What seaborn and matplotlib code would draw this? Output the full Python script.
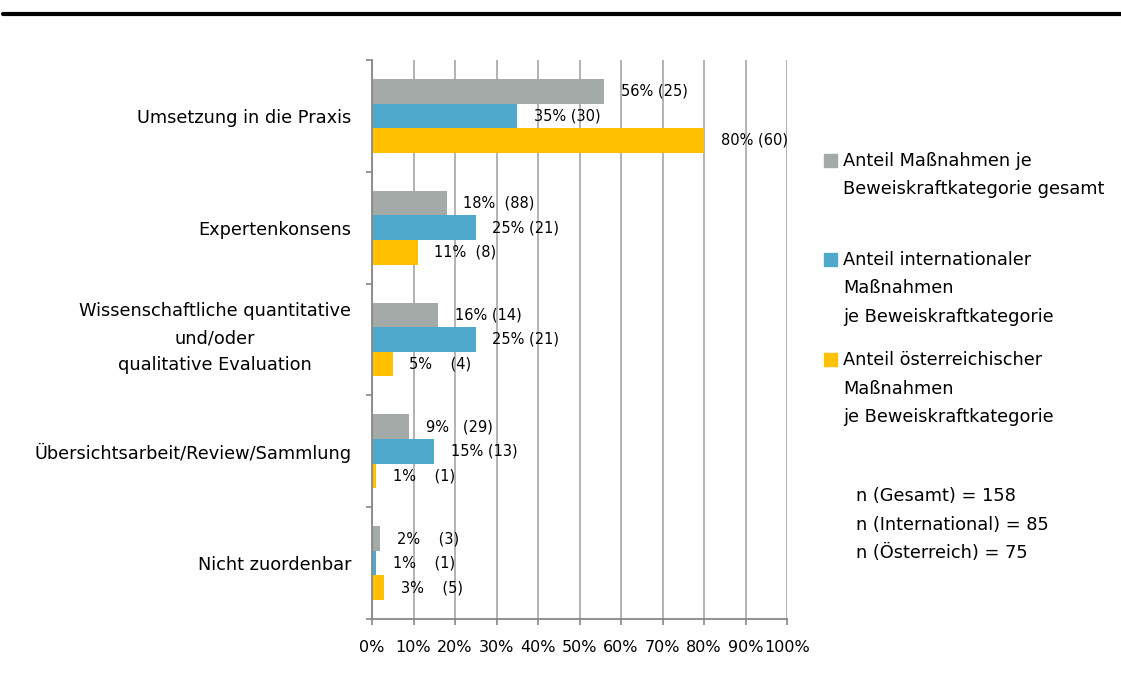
import matplotlib

matplotlib.use("Agg")

import matplotlib.pyplot as plt
import pandas as pd
import seaborn as sns
from matplotlib.lines import Line2D
from matplotlib.patches import Rectangle
from matplotlib.ticker import FixedLocator, MultipleLocator, PercentFormatter
from matplotlib.transforms import ScaledTranslation

categories = [
    "Umsetzung in die Praxis",
    "Expertenkonsens",
    "Wissenschaftliche quantitative\nund/oder\nqualitative Evaluation",
    "Übersichtsarbeit/Review/Sammlung",
    "Nicht zuordenbar",
]
series = [
    "Anteil Maßnahmen je\nBeweiskraftkategorie gesamt",
    "Anteil internationaler\nMaßnahmen\nje Beweiskraftkategorie",
    "Anteil österreichischer\nMaßnahmen\nje Beweiskraftkategorie",
]
colors = ["#A4AAA7", "#4FA9CC", "#FFC000"]

pct_gesamt = [56, 18, 16, 9, 2]
pct_international = [35, 25, 25, 15, 1]
pct_oesterreich = [80, 11, 5, 1, 3]

labels_gesamt = ["56% (25)", "18%  (88)", "16% (14)", "9%   (29)", "2%    (3)"]
labels_international = ["35% (30)", "25% (21)", "25% (21)", "15% (13)", "1%    (1)"]
labels_oesterreich = ["80% (60)", "11%  (8)", "5%    (4)", "1%    (1)", "3%    (5)"]

n_text = "n (Gesamt) = 158\nn (International) = 85\nn (Österreich) = 75"

df = pd.DataFrame({
    "kategorie": categories * 3,
    "serie": [s for s in series for _ in categories],
    "anteil": pct_gesamt + pct_international + pct_oesterreich,
})

sns.set_theme(style="white")
plt.rcParams["font.family"] = ["DejaVu Sans"]
plt.rcParams["text.color"] = "black"

fig = plt.figure(figsize=(11.21, 6.78), dpi=100)
ax = fig.add_axes([372 / 1121, 1 - 619 / 678, 415 / 1121, 559 / 678])

sns.barplot(data=df, y="kategorie", x="anteil", hue="serie", palette=colors,
            orient="h", width=0.66, saturation=1, linewidth=0, ax=ax, legend=False)

for cont, labs in zip(ax.containers, [labels_gesamt, labels_international, labels_oesterreich]):
    ax.bar_label(cont, labels=labs, padding=12, fontsize=10.5, color="black")

ax.set_xlim(0, 100)
ax.set_ylim(len(categories) - 0.5, -0.5)
ax.xaxis.set_major_locator(MultipleLocator(10))
ax.xaxis.set_major_formatter(PercentFormatter(decimals=0))
ax.yaxis.set_minor_locator(FixedLocator([i - 0.5 for i in range(len(categories) + 1)]))
ax.set_xlabel("")
ax.set_ylabel("")

ax.grid(axis="x", color="#a6a6a6", linewidth=1.2)
ax.set_axisbelow(True)
for side in ["top", "right"]:
    ax.spines[side].set_visible(False)
for side in ["left", "bottom"]:
    ax.spines[side].set_color("#888888")
    ax.spines[side].set_linewidth(1.3)

ax.tick_params(axis="y", which="major", length=0, pad=15, labelsize=12.8, labelcolor="black")
ax.tick_params(axis="y", which="minor", left=True, length=4.5, width=1.2, color="#888888")
ax.tick_params(axis="x", which="major", bottom=True, length=4, width=1.2, color="#888888",
               pad=11, labelsize=11.5, labelcolor="black")
for t in ax.get_yticklabels():
    t.set_multialignment("center")
    t.set_linespacing(1.65)
    if "\n" in t.get_text():
        # multi-line label sits a little low with the wide line spacing
        t.set_transform(t.get_transform() + ScaledTranslation(0, 8 / 100, fig.dpi_scale_trans))

# legend drawn by hand so that each swatch sits on the first text line
legend_tops = [160, 259, 359]
for color, name, ytop in zip(colors, series, legend_tops):
    fig.patches.append(Rectangle((824 / 1121, 1 - (ytop + 7) / 678), 13 / 1121, 13 / 678,
                                 transform=fig.transFigure, color=color))
    fig.text(843 / 1121, 1 - (ytop - 8) / 678, name, fontsize=12.8, va="top",
             linespacing=1.75)
fig.text(856 / 1121, 1 - 487 / 678, n_text, fontsize=12.8, va="top", linespacing=1.75)

fig.add_artist(Line2D([3 / 1121, 1], [1 - 14 / 678, 1 - 14 / 678], color="black",
                      linewidth=3, transform=fig.transFigure))

plt.savefig("out.png", dpi=100)
plt.close()
